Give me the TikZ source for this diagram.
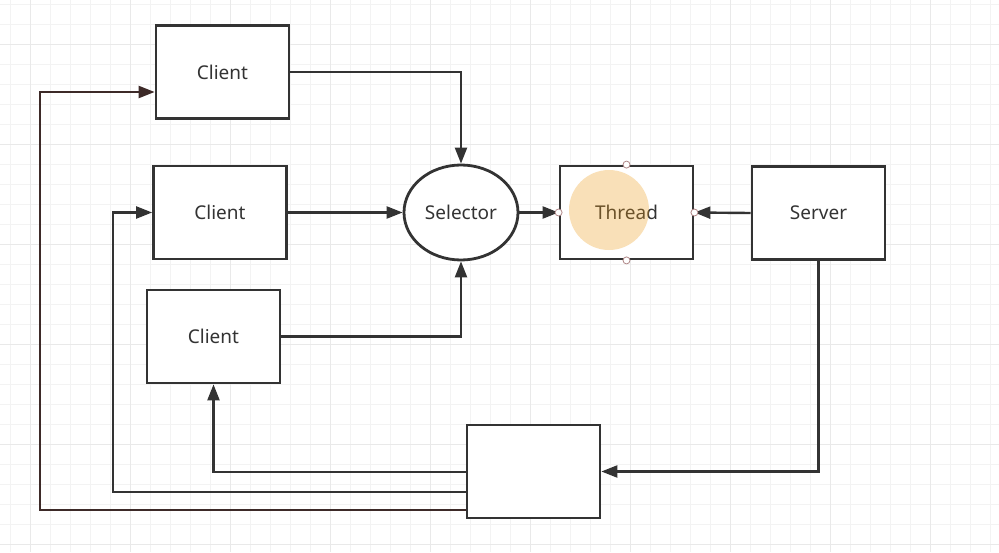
\documentclass[tikz,border=0pt]{standalone}
\usepackage{fontspec}
\setmainfont{Noto Sans}
\usetikzlibrary{arrows.meta,shapes.geometric,calc}
\definecolor{ln}{HTML}{333333}
\definecolor{lnr}{HTML}{3D2A28}
\definecolor{gmin}{HTML}{F3F3F3}
\definecolor{gmaj}{HTML}{E9E9E9}
\definecolor{hl}{RGB}{238,155,22}
\definecolor{hdl}{HTML}{B08888}
\tikzset{
  box/.style={draw=ln, line width=2.8pt, fill=white, minimum width=133pt, minimum height=93pt, inner sep=0pt, font=\fontsize{19}{22}\selectfont, text=ln},
  ell/.style={draw=ln, line width=2.8pt, fill=white, ellipse, minimum width=114pt, minimum height=95pt, inner sep=0pt, font=\fontsize{19}{22}\selectfont, text=ln},
  conn/.style={draw=ln, line width=2.4pt, -{Triangle[length=16pt,width=12pt]}},
  handle/.style={circle, draw=hdl, fill=white, line width=0.8pt, minimum size=7pt, inner sep=0pt}
}
\begin{document}
\begin{tikzpicture}[x=1pt,y=-1pt]
\useasboundingbox (0,0) rectangle (999,552);
\fill[white] (0,0) rectangle (999,552);
% grid
\foreach \x in {10,30,...,990} \draw[gmin, line width=0.9pt] (\x,0) -- (\x,552);
\foreach \y in {4,24,...,544} \draw[gmin, line width=0.9pt] (0,\y) -- (999,\y);
\foreach \x in {30,130,...,930} \draw[gmaj, line width=0.9pt] (\x,0) -- (\x,552);
\foreach \y in {44,144,...,544} \draw[gmaj, line width=0.9pt] (0,\y) -- (999,\y);

% nodes
\node[box] (c1) at (222.5,72) {Client};
\node[box] (c2) at (220,212.5) {Client};
\node[box] (c3) at (213.5,336.5) {Client};
\node[ell] (sel) at (461,212.5) {Selector};
\node[box] (thr) at (626.5,212.5) {Thread};
\node[box] (srv) at (818.5,213) {Server};
\node[box] (bot) at (533.5,471.5) {};

% highlight over Thread
\fill[hl, opacity=0.3] (609,210) circle (40pt);

% connectors
\draw[conn] (c1.east) -| (sel.north);
\draw[conn] (c2.east) -- (sel.west);
\draw[conn] (c3.east) -| (sel.south);
\draw[conn] (sel.east) -- (thr.west);
\draw[conn] (srv.west) -- (thr.east);
\draw[conn] (srv.south) |- (bot.east);

\coordinate (b1) at ($(bot.west)+(0,0.5)$);
\coordinate (b2) at ($(bot.west)+(0,20.5)$);
\coordinate (b3) at ($(bot.west)+(0,38.5)$);
\draw[conn] (b1) -| (c3.south);
\draw[conn] (b2) -- (113,492) |- (c2.west);
\draw[conn, draw=lnr] (b3) -- (40,510) |- ($(c1.west)+(0,20)$);

% selection handles
\node[handle] (h1) at (thr.north) {};
\node[handle] (h2) at (thr.south) {};
\node[handle] (h3) at (thr.west) {};
\node[handle] (h4) at (thr.east) {};
\end{tikzpicture}
\end{document}
